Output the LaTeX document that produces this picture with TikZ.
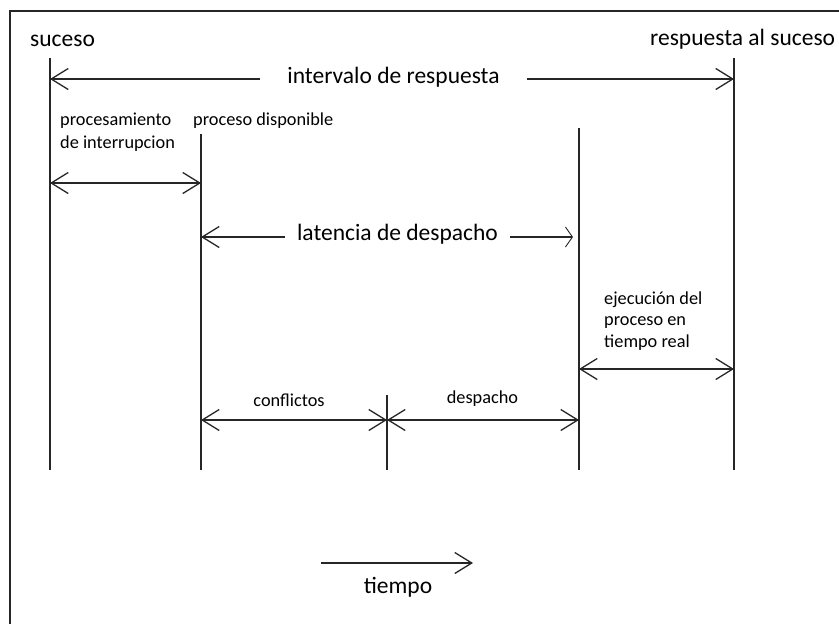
\documentclass[tikz,border=0pt]{standalone}
\usepackage{fontspec}
\setmainfont{Carlito}
\usetikzlibrary{arrows.meta}
\begin{document}
\begin{tikzpicture}[x=1pt,y=-1pt,
  big/.style={font=\fontsize{23.5}{28}\selectfont, inner sep=0pt, text=black},
  small/.style={font=\fontsize{18.3}{22}\selectfont, inner sep=0pt, text=black},
  vline/.style={line width=1.3pt, draw=black!85},
  arr/.style={line width=1.3pt, draw=black!85, -{Straight Barb[length=17pt,width=21pt]}},
  dbl/.style={line width=1.3pt, draw=black!85, {Straight Barb[length=17pt,width=21pt]}-{Straight Barb[length=17pt,width=21pt]}},
  sarr/.style={line width=1.3pt, draw=black!85, -{Straight Barb[length=7pt,width=20pt,line width=0.9pt]}}]
\useasboundingbox (0,0) rectangle (839,624);
% frame
\draw[line width=1.6pt, draw=black!85] (10,640) -- (10,11) -- (850,11);
% vertical time lines
\coordinate (A1) at (50,58);  \coordinate (A2) at (50,470);
\coordinate (B1) at (201,134); \coordinate (B2) at (201,470);
\coordinate (C1) at (387,395); \coordinate (C2) at (387,470);
\coordinate (D1) at (579,128); \coordinate (D2) at (579,470);
\coordinate (E1) at (734,58);  \coordinate (E2) at (734,470);
\draw[vline] (A1) -- (A2);
\draw[vline] (B1) -- (B2);
\draw[vline] (C1) -- (C2);
\draw[vline] (D1) -- (D2);
\draw[vline] (E1) -- (E2);
% arrow levels
\coordinate (L1) at (0,79);
\coordinate (L2) at (0,183);
\coordinate (L3) at (0,237);
\coordinate (L4) at (0,369);
\coordinate (L5) at (0,420);
\coordinate (LR) at (573,237);
\coordinate (T1) at (321,563);
\coordinate (T2) at (473,563);
% labels
\node[big, anchor=base west] (suc) at (30,46) {suceso};
\node[big, anchor=base west] (resp) at (650,45) {respuesta al suceso};
\node[big, anchor=base, inner xsep=27.5pt] (ivl) at (393.5,83) {intervalo de respuesta};
\node[small, anchor=base west, align=left, font=\fontsize{18.3}{23}\selectfont] (proc) at (60,148) {procesamiento\\ de interrupcion};
\node[small, anchor=base west] (disp) at (193,125) {proceso disponible};
\node[big, anchor=base, inner xsep=12pt] (lat) at (397.5,240.6) {latencia de despacho};
\node[small, anchor=base west, align=left, font=\fontsize{18.3}{21.5}\selectfont] (ejec) at (604,347) {ejecución del\\proceso en\\tiempo real};
\node[small, anchor=base] (conf) at (289,406) {conflictos};
\node[small, anchor=base] (desp) at (482.5,403) {despacho};
\node[big, anchor=base] (tie) at (398,593) {tiempo};
% arrows
\draw[arr] (ivl.west |- L1) -- (A1 |- L1);
\draw[arr] (ivl.east |- L1) -- (E1 |- L1);
\draw[dbl] (A1 |- L2) -- (B1 |- L2);
\draw[arr] (lat.west |- L3) -- (B1 |- L3);
\draw[sarr] (lat.east |- L3) -- (LR);
\draw[dbl] (D1 |- L4) -- (E1 |- L4);
\draw[dbl] (B1 |- L5) -- (C1 |- L5);
\draw[dbl] (C1 |- L5) -- (D1 |- L5);
\draw[arr] (T1) -- (T2);
\end{tikzpicture}
\end{document}
